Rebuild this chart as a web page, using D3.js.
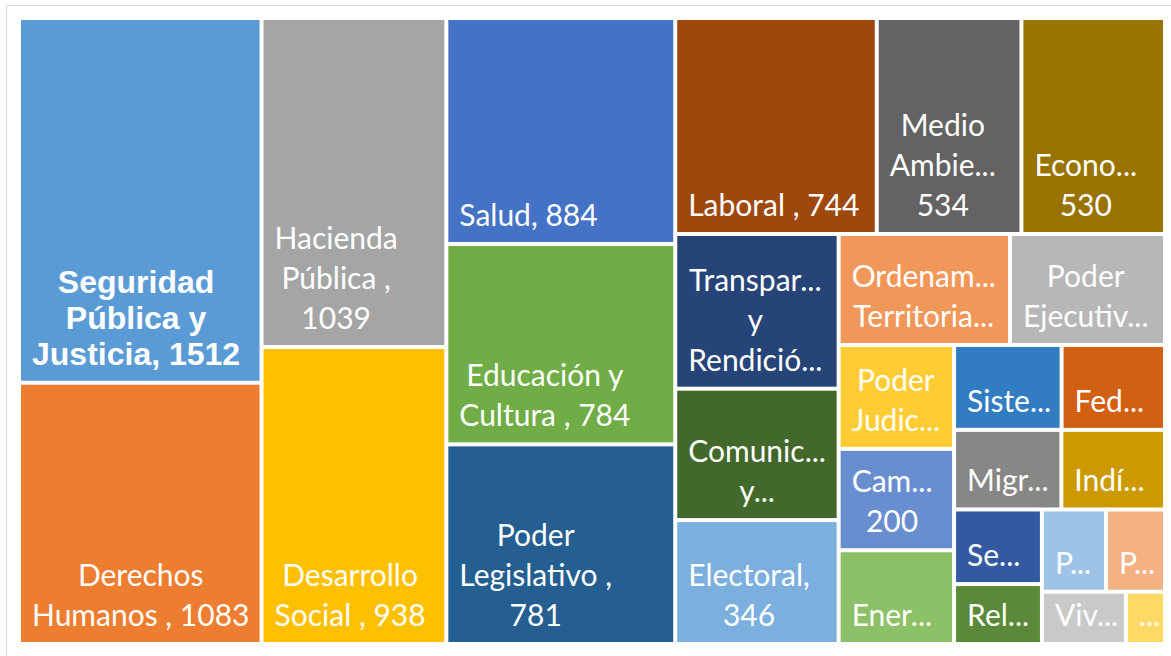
<!DOCTYPE html>
<html>
<head>
<meta charset="utf-8">
<script src="https://cdn.jsdelivr.net/npm/d3@7"></script>
<style>
  html, body { margin: 0; padding: 0; background: #ffffff; }
  svg { display: block; }
</style>
</head>
<body>
<svg id="chart" width="1171" height="656"></svg>
<script>
// ---- Data ----
const categories = [
  "Seguridad Pública y Justicia", "Derechos Humanos", "Hacienda Pública", "Desarrollo Social",
  "Salud", "Educación y Cultura", "Poder Legislativo", "Laboral",
  "Medio Ambiente", "Economía", "Transparencia y Rendición de Cuentas", "Comunicaciones y Transportes",
  "Electoral", "Ordenamiento Territorial", "Poder Ejecutivo", "Poder Judicial",
  "Campo", "Energía", "Sistema Anticorrupción", "Federalismo",
  "Migración", "Indígenas", "Seguridad Social", "Relaciones Exteriores",
  "Población", "Pesca", "Vivienda", "Otros"
];
const values = [
  1512, 1083, 1039, 938,
  884, 784, 781, 744,
  534, 530, 432, 367,
  346, 325, 294, 205,
  200, 185, 156, 150,
  146, 141, 112, 90,
  90, 83, 75, 35
];
// Text exactly as displayed (wrapped / truncated) in each cell
const labelLines = [
  ["Seguridad", "Pública y", "Justicia, 1512"], ["Derechos", "Humanos , 1083"], ["Hacienda", "Pública ,", "1039"], ["Desarrollo", "Social , 938"],
  ["Salud, 884"], ["Educación y", "Cultura , 784"], ["Poder", "Legislativo ,", "781"], ["Laboral , 744"],
  ["Medio", "Ambie...", "534"], ["Econo...", "530"], ["Transpar...", "y", "Rendició..."], ["Comunic...", "y..."],
  ["Electoral,", "346"], ["Ordenam...", "Territoria..."], ["Poder", "Ejecutiv..."], ["Poder", "Judic..."],
  ["Cam...", "200"], ["Ener..."], ["Siste..."], ["Fed..."],
  ["Migr..."], ["Indí..."], ["Se..."], ["Rel..."],
  ["P..."], ["P..."], ["Viv..."], ["..."]
];
const colors = [
  "#5B9BD5", "#ED7D31", "#A5A5A5", "#FFC000", "#4472C4", "#70AD47",
  "#255E91", "#9E480E", "#636363", "#997300", "#264478", "#43682B",
  "#7CAFDD", "#F1975A", "#B7B7B7", "#FFCD33", "#698ED0", "#8CC168",
  "#327DC2", "#D26012", "#878787", "#CC9A00", "#335AA1", "#5A8A39",
  "#9DC3E6", "#F4B183", "#C9C9C9", "#FFD966"
];
// Strip grouping of the squarified layout: [item count, "v" = column at left, "h" = row on top]
const strips = [[2,"v"],[2,"v"],[3,"v"],[3,"h"],[3,"v"],[2,"h"],[3,"v"],[2,"h"],[2,"h"],[2,"v"],[2,"h"],[2,"h"]];

// ---- Layout ----
const W = 1171, H = 656;
const plot = { x: 19, y: 18, w: 1146, h: 626 };
const gap = 2;           // half of the white gap between cells
const svg = d3.select("#chart");

// chart area border
svg.append("rect")
  .attr("x", 6.5).attr("y", 5.5)
  .attr("width", W + 20).attr("height", H + 20)
  .attr("fill", "#ffffff").attr("stroke", "#D9D9D9").attr("stroke-width", 1);

const data = categories.map((c, i) => ({ name: c, value: values[i], lines: labelLines[i], color: colors[i] }));

function stripTile(parent, x0, y0, x1, y1) {
  const nodes = parent.children;
  let i = 0, remaining = parent.value;
  for (const [n, dir] of strips) {
    const kids = nodes.slice(i, i + n);
    if (!kids.length) break;
    const sum = d3.sum(kids, d => d.value);
    const row = { children: kids, value: sum };
    if (dir === "v") {
      const x = remaining ? x0 + (x1 - x0) * sum / remaining : x1;
      d3.treemapSlice(row, x0, y0, x, y1);
      x0 = x;
    } else {
      const y = remaining ? y0 + (y1 - y0) * sum / remaining : y1;
      d3.treemapDice(row, x0, y0, x1, y);
      y0 = y;
    }
    remaining -= sum;
    i += n;
  }
}

const root = d3.hierarchy({ children: data }).sum(d => d.value || 0);
d3.treemap().tile(stripTile).size([plot.w, plot.h]).round(false)(root);

const g = svg.append("g").attr("transform", `translate(${plot.x},${plot.y})`);
const defs = svg.append("defs");

const leaves = root.leaves();
const cell = g.selectAll("g.cell").data(leaves).join("g").attr("class", "cell");

cell.append("rect")
  .attr("x", d => d.x0 + gap)
  .attr("y", d => d.y0 + gap)
  .attr("width", d => Math.max(0, d.x1 - d.x0 - 2 * gap))
  .attr("height", d => Math.max(0, d.y1 - d.y0 - 2 * gap))
  .attr("fill", d => d.data.color);

leaves.forEach((d, i) => {
  defs.append("clipPath").attr("id", "clip" + i)
    .append("rect")
    .attr("x", d.x0 + gap).attr("y", d.y0 + gap)
    .attr("width", Math.max(0, d.x1 - d.x0 - 2 * gap))
    .attr("height", Math.max(0, d.y1 - d.y0 - 2 * gap));
});

cell.each(function (d, i) {
  const bold = i === 0;
  const fontSize = bold ? 32 : 30;
  const lh = bold ? 36 : 40;
  const lines = d.data.lines;
  const t = d3.select(this).append("g").attr("clip-path", `url(#clip${i})`);
  const texts = t.selectAll("text").data(lines).join("text")
    .attr("fill", "#ffffff")
    .attr("font-family", bold ? "'Liberation Sans', Arial, sans-serif" : "Lato, 'Open Sans', sans-serif")
    .attr("font-weight", bold ? "bold" : "normal")
    .attr("font-size", fontSize)
    .attr("text-anchor", "middle")
    .text(s => s);
  let blockW = 0;
  texts.each(function () { blockW = Math.max(blockW, this.getComputedTextLength()); });
  const left = d.x0 + gap + 11;
  const lastBase = d.y1 - gap - 16;
  texts
    .attr("x", left + blockW / 2)
    .attr("y", (s, k) => lastBase - (lines.length - 1 - k) * lh);
});
</script>
</body>
</html>
